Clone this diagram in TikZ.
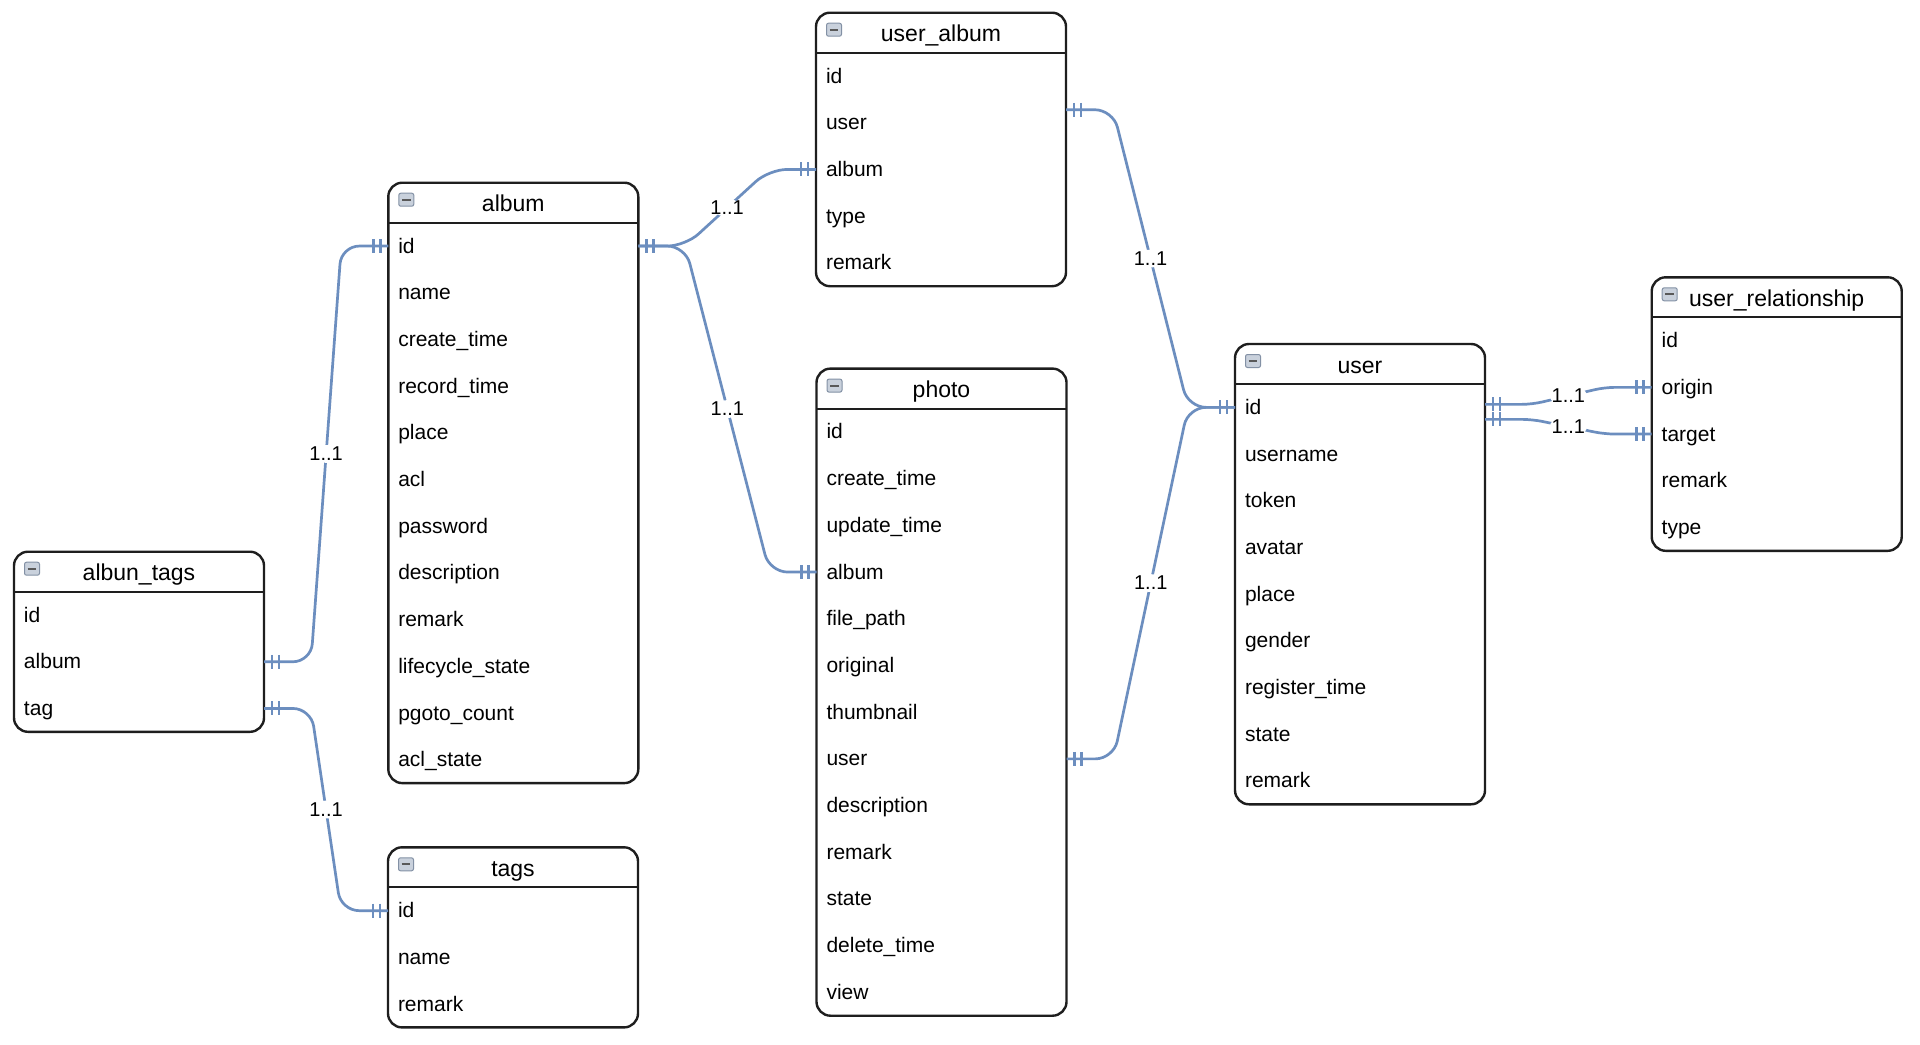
\documentclass[tikz,border=0pt]{standalone}
\usepackage{fontspec}
\setmainfont{Liberation Sans}
\usetikzlibrary{calc}
\definecolor{relblue}{HTML}{6C8EBF}
\definecolor{iconfill}{HTML}{C9D1DC}
\definecolor{icondraw}{HTML}{8391A5}
\definecolor{boxline}{HTML}{1E1E1E}
\tikzset{
 tablebox/.style={draw=boxline, line width=1.2pt, rounded corners=7pt, minimum width=125pt, inner sep=0pt, outer sep=0pt, fill=white},
 sepline/.style={draw=boxline, line width=1.1pt},
 headtxt/.style={font=\fontsize{11.5}{13}\selectfont, text height=9.2pt, text depth=0pt, inner sep=0pt},
 rowtxt/.style={font=\fontsize{10.5}{12}\selectfont, text width=115pt, inner xsep=5pt, inner ysep=0pt, outer sep=0pt, align=left, text height=9pt, text depth=2pt},
 iconbox/.style={draw=icondraw, fill=iconfill, line width=0.5pt, rounded corners=1pt, minimum width=7.5pt, minimum height=6.5pt, inner sep=0pt, path picture={\draw[line width=0.9pt, black!65] ([xshift=1.6pt]path picture bounding box.west) -- ([xshift=-1.6pt]path picture bounding box.east);}},
 rel/.style={draw=relblue, line width=1.35pt, rounded corners=9pt},
 relshort/.style={rel, rounded corners=5pt},
 relbar/.style={draw=relblue, line width=1.35pt},
 lbl/.style={fill=white, inner sep=1pt, font=\fontsize{10}{12}\selectfont, text=black}
}
\newcommand{\ertable}[6]{%
 \node[tablebox, anchor=north west, minimum height={(40+#4*46.7)*0.5pt}] (#1) at (#2,#3) {};
 \draw[sepline] ($(#1.north west)+(0,40)$) -- ($(#1.north east)+(0,40)$);
 \node[headtxt] (#1-title) at ($(#1.north)+(0,20)$) {#5};
 \node[iconbox, anchor=north west] (#1-icon) at ($(#1.north west)+(10,10)$) {};
 \foreach \r [count=\i] in {#6} {%
   \node[rowtxt, anchor=west] (#1-\i) at ($(#1.north west)+(0,{63.35+(\i-1)*46.7})$) {\r};}%
}
\newcommand{\ermark}[2]{%
 \draw[relbar] ($(#1)+({#2*8},-7)$) -- ++(0,14);
 \draw[relbar] ($(#1)+({#2*15},-7)$) -- ++(0,14);}
\begin{document}
\begin{tikzpicture}[x=0.5pt,y=-0.5pt]
\useasboundingbox (0,0) rectangle (1920,1044);
\fill[white] (0,0) rectangle (1920,1044);
% tables
\ertable{at}{14}{551.7}{3}{albun\_tags}{id,album,tag}
\ertable{album}{388.3}{182.7}{12}{album}{id,name,create\_time,record\_time,place,acl,password,description,remark,lifecycle\_state,pgoto\_count,acl\_state}
\ertable{tags}{388}{847.3}{3}{tags}{id,name,remark}
\ertable{ua}{816}{12.7}{5}{user\_album}{id,user,album,type,remark}
\ertable{photo}{816.5}{368.6}{13}{photo}{id,create\_time,update\_time,album,file\_path,original,thumbnail,user,description,remark,state,delete\_time,view}
\ertable{user}{1235}{344}{9}{user}{id,username,token,avatar,place,gender,register\_time,state,remark}
\ertable{ur}{1651.7}{277.3}{5}{user\_relationship}{id,origin,target,remark,type}
% connectors
\draw[rel] (at-2.east) -- ++(47,0) -- node[lbl]{1..1} ($(album-1.west)+(-47,0)$) -- (album-1.west);
\draw[rel] (at-3.east) -- ++(47,0) -- node[lbl]{1..1} ($(tags-1.west)+(-47,0)$) -- (tags-1.west);
\draw[rel] (album-1.east) -- ++(47,0) -- node[lbl]{1..1} ($(ua-3.west)+(-47,0)$) -- (ua-3.west);
\draw[rel] (album-1.east) -- ++(47,0) -- node[lbl]{1..1} ($(photo-4.west)+(-47,0)$) -- (photo-4.west);
\coordinate (ua-o) at ($(ua-2.east)+(0,-13)$);
\draw[rel] (ua-o) -- ++(47,0) -- node[lbl]{1..1} ($(user-1.west)+(-47,0)$) -- (user-1.west);
\draw[rel] (photo-8.east) -- ++(47,0) -- node[lbl]{1..1} ($(user-1.west)+(-47,0)$) -- (user-1.west);
\coordinate (user-o1) at ($(user-1.east)+(0,-3)$);
\coordinate (user-o2) at ($(user-1.east)+(0,12)$);
\draw[relshort] (user-o1) -- ++(47,0) -- node[lbl]{1..1} ($(ur-2.west)+(-47,0)$) -- (ur-2.west);
\draw[relshort] (user-o2) -- ++(47,0) -- node[lbl]{1..1} ($(ur-3.west)+(-47,0)$) -- (ur-3.west);
% cardinality marks
\ermark{at-2.east}{1}
\ermark{at-3.east}{1}
\ermark{album-1.west}{-1}
\ermark{album-1.east}{1}
\ermark{tags-1.west}{-1}
\ermark{ua-3.west}{-1}
\ermark{ua-o}{1}
\ermark{photo-4.west}{-1}
\ermark{photo-8.east}{1}
\ermark{user-1.west}{-1}
\ermark{user-o1}{1}
\ermark{user-o2}{1}
\ermark{ur-2.west}{-1}
\ermark{ur-3.west}{-1}
\end{tikzpicture}
\end{document}
